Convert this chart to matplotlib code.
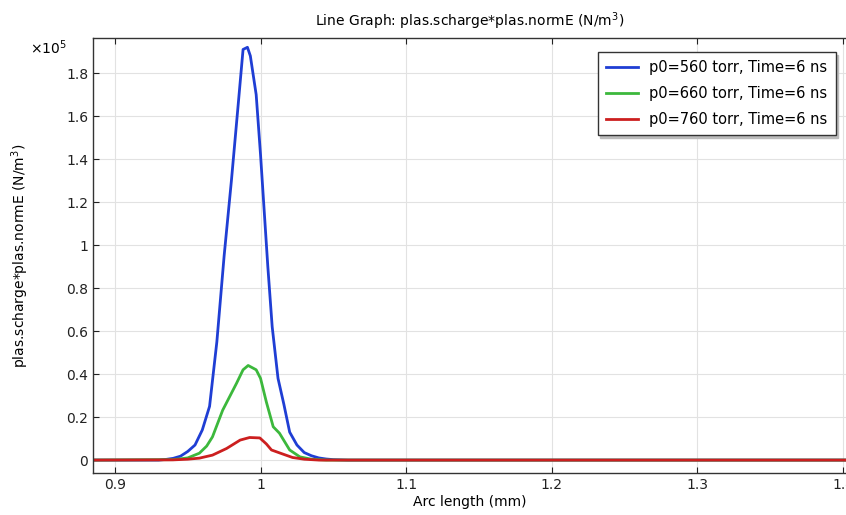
import matplotlib
matplotlib.use("Agg")
import matplotlib.pyplot as plt
from matplotlib.ticker import FixedLocator

x_blue = [0.885, 0.93, 0.935, 0.94, 0.945, 0.95, 0.955, 0.96, 0.965, 0.97, 0.975, 0.98, 0.985,
          0.988, 0.991, 0.993, 0.997, 1.0, 1.005, 1.008, 1.012, 1.016, 1.02, 1.025, 1.03,
          1.035, 1.04, 1.045, 1.05, 1.06, 1.402]
y_blue = [0.0, 0.0, 0.003, 0.008, 0.018, 0.04, 0.07, 0.14, 0.25, 0.55, 0.95, 1.30, 1.68,
          1.91, 1.92, 1.88, 1.70, 1.42, 0.90, 0.62, 0.38, 0.26, 0.13, 0.07, 0.035,
          0.02, 0.01, 0.005, 0.002, 0.0, 0.0]

x_green = [0.885, 0.94, 0.95, 0.958, 0.963, 0.967, 0.974, 0.9835, 0.988, 0.9915, 0.997,
           1.0, 1.004, 1.0087, 1.013, 1.02, 1.027, 1.035, 1.045, 1.402]
y_green = [0.0, 0.002, 0.01, 0.032, 0.065, 0.108, 0.232, 0.357, 0.42, 0.44, 0.42,
           0.38, 0.27, 0.155, 0.125, 0.047, 0.015, 0.004, 0.0, 0.0]

x_red = [0.885, 0.94, 0.95, 0.958, 0.967, 0.9767, 0.986, 0.9925, 0.9995, 1.004, 1.0075,
         1.0153, 1.022, 1.03, 1.04, 1.402]
y_red = [0.0, 0.001, 0.004, 0.009, 0.023, 0.054, 0.093, 0.105, 0.103, 0.075, 0.047,
         0.028, 0.012, 0.004, 0.0, 0.0]

labels = ["p0=560 torr, Time=6 ns", "p0=660 torr, Time=6 ns", "p0=760 torr, Time=6 ns"]
colors = ["#1f3ed4", "#3cb83c", "#cc1f1f"]

x_ticks = [0.9, 1.0, 1.1, 1.2, 1.3, 1.4]
x_tick_labels = ["0.9", "1", "1.1", "1.2", "1.3", "1.4"]
y_ticks = [0, 0.2, 0.4, 0.6, 0.8, 1.0, 1.2, 1.4, 1.6, 1.8]
y_tick_labels = ["0", "0.2", "0.4", "0.6", "0.8", "1", "1.2", "1.4", "1.6", "1.8"]

plt.rcParams['font.family'] = ['DejaVu Sans']
fig = plt.figure(figsize=(8.46, 5.15), dpi=100)
ax = fig.add_axes([0.110, 0.0816, 0.89, 0.8445])

for xs, ys, c, lab in zip([x_blue, x_green, x_red], [y_blue, y_green, y_red], colors, labels):
    ax.plot(xs, ys, color=c, lw=2.0, label=lab, solid_joinstyle='round')

ax.set_xlim(0.885, 1.402)
ax.set_ylim(-0.06, 1.963)
ax.xaxis.set_major_locator(FixedLocator(x_ticks))
ax.set_xticklabels(x_tick_labels)
ax.yaxis.set_major_locator(FixedLocator(y_ticks))
ax.set_yticklabels(y_tick_labels)
ax.tick_params(direction='in', top=True, right=False, length=4, labelsize=10, colors='#222222')
ax.grid(True, color='#e2e2e2', lw=0.8)
ax.set_axisbelow(True)
for s in ['top', 'bottom', 'left']:
    ax.spines[s].set_color('#333333')
    ax.spines[s].set_linewidth(1.0)
ax.spines['right'].set_visible(False)

ax.set_xlabel("Arc length (mm)", fontsize=10, labelpad=2)
ax.set_ylabel("plas.scharge*plas.normE (N/m$^3$)", fontsize=10)
ax.yaxis.set_label_coords(-0.082, 0.5)
ax.set_title("Line Graph: plas.scharge*plas.normE (N/m$^3$)", fontsize=10, pad=9)
fig.text(0.035, 0.908, r"$\times$10$^5$", fontsize=10, ha='left', va='center')

leg = ax.legend(loc='upper right', bbox_to_anchor=(0.996, 0.985), fontsize=10.5,
                fancybox=False, edgecolor='#333333', framealpha=1, shadow={'color': '#bbbbbb', 'alpha': 1},
                handlelength=2.2, borderpad=0.55, labelspacing=0.75)
leg.get_frame().set_linewidth(1.0)

fig.savefig("out.png", dpi=100)
